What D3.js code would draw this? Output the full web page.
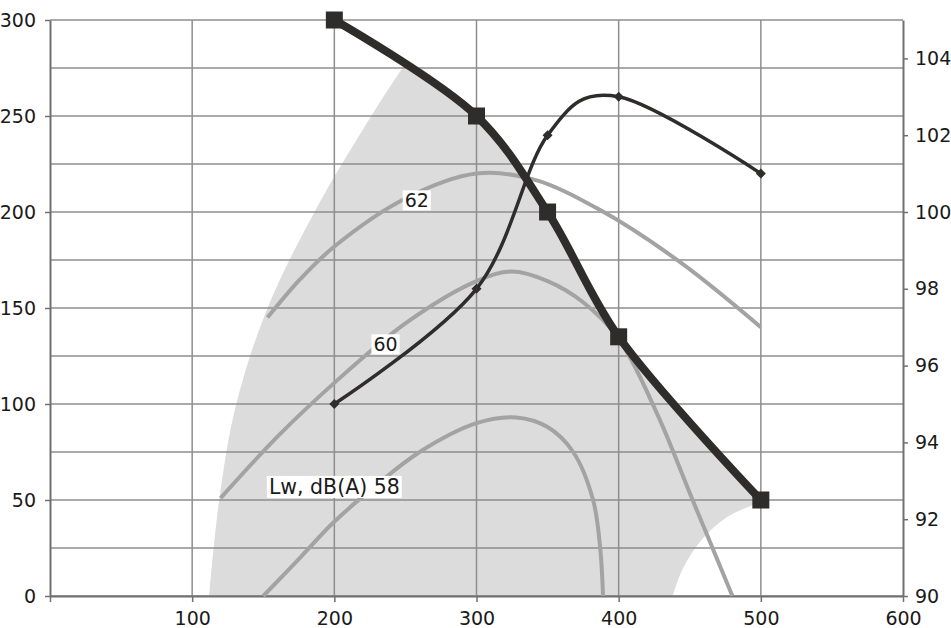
<!DOCTYPE html>
<html>
<head>
<meta charset="utf-8">
<script src="https://cdn.jsdelivr.net/npm/d3@7"></script>
<style>
    html, body { margin: 0; padding: 0; background: #fff; }
</style>
</head>
<body>
<div id="chart"></div>
<script>
// fan curve: flow on x, pressure on the left axis, sound power on the right axis
const pressurePts = [[200, 300], [300, 250], [350, 200], [400, 135], [500, 50]];
const soundPts = [[200, 95], [300, 98], [350, 102], [400, 103], [500, 101]];

// iso-noise lines (Lw, dB(A))
const noise62 = [[153, 145], [176, 165], [200, 182], [250, 207], [300, 220], [340, 217], [387, 201], [443, 174], [500, 140]];
const noise60 = [[120, 51], [160, 83], [200, 111], [250, 142], [300, 164], [325, 169], [350, 164], [375, 153], [400, 134], [427, 95], [452, 50], [480, 0]];
const noise58 = [[150, 0], [176, 20], [199, 38], [230, 58], [260, 75], [300, 90], [328, 93], [350, 88], [368, 75], [382, 50], [387, 25], [389, 0]];

// working region edges
const regionLeft = [[112, 0], [119, 50], [131, 100], [153, 150], [186, 200], [226, 250], [248, 275], [272, 300]];
const regionRight = [[500, 49], [476, 41], [457, 28], [445, 14], [438, 0]];

const noiseLabels = [
    { text: "62", x: 258, y: 206, size: 19 },
    { text: "60", x: 236, y: 131, size: 19 },
    { text: "Lw, dB(A) 58", x: 200, y: 57, size: 20.5 }
];

const xTicks = [0, 100, 200, 300, 400, 500, 600];
const yTicks = [0, 50, 100, 150, 200, 250, 300];
const y2Ticks = [90, 92, 94, 96, 98, 100, 102, 104];
const gridY = d3.range(0, 301, 25);
const gridX = [100, 200, 300, 400, 500];

const W = 951, H = 628;
const margin = { top: 20, right: 48, bottom: 32, left: 50 };
const FONT = "DejaVu Sans, Verdana, sans-serif";

const svg = d3.select("#chart").append("svg")
    .attr("width", W)
    .attr("height", H);

const x = d3.scaleLinear().domain([0, 600]).range([margin.left, W - margin.right]);
const y = d3.scaleLinear().domain([0, 300]).range([H - margin.bottom, margin.top]);
const y2 = d3.scaleLinear().domain([90, 105]).range([H - margin.bottom, margin.top]);

const smooth = d3.line().x(d => x(d[0])).y(d => y(d[1])).curve(d3.curveCatmullRom);
const smooth2 = d3.line().x(d => x(d[0])).y(d => y2(d[1])).curve(d3.curveCardinal.tension(0));

// shaded region, clipped under the pressure curve
const pressurePath = smooth(pressurePts);
const clipD = `M${x(0)},${y(300)}L` + pressurePath.slice(1) + `L${x(500)},${y(0)}L${x(0)},${y(0)}Z`;
svg.append("clipPath").attr("id", "under-curve")
    .append("path").attr("d", clipD);

const regionD = smooth(regionLeft)
    + `L${x(560)},${y(300)}L${x(560)},${y(49)}`
    + smooth(regionRight).replace(/^M/, "L") + "Z";
svg.append("path")
    .attr("d", regionD)
    .attr("fill", "#dcdcdc")
    .attr("clip-path", "url(#under-curve)");

// grid
svg.append("g").selectAll("line")
    .data(gridY)
    .join("line")
    .attr("x1", x(0)).attr("x2", x(600))
    .attr("y1", d => y(d)).attr("y2", d => y(d))
    .attr("stroke", "#8e8e8e").attr("stroke-width", 1.5);

svg.append("g").selectAll("line")
    .data(gridX)
    .join("line")
    .attr("x1", d => x(d)).attr("x2", d => x(d))
    .attr("y1", y(0)).attr("y2", y(300))
    .attr("stroke", "#8e8e8e").attr("stroke-width", 1.5);

// axes
const styleAxis = g => {
    g.attr("font-size", 19).attr("font-family", FONT);
    g.select(".domain").attr("stroke", "#707070").attr("stroke-width", 2);
    g.selectAll(".tick line").attr("stroke", "#707070").attr("stroke-width", 1.5);
    g.selectAll("text").attr("fill", "#1a1a1a");
};

svg.append("g")
    .attr("transform", `translate(${x(0)},0)`)
    .call(d3.axisLeft(y).tickValues(yTicks).tickSize(5).tickPadding(9).tickSizeOuter(0))
    .call(styleAxis);

svg.append("g")
    .attr("transform", `translate(${x(600)},0)`)
    .call(d3.axisRight(y2).tickValues(y2Ticks).tickSize(5).tickPadding(7).tickSizeOuter(0))
    .call(styleAxis);

svg.append("g")
    .attr("transform", `translate(0,${y(0)})`)
    .call(d3.axisBottom(x).tickValues(xTicks).tickSize(6).tickPadding(10).tickSizeOuter(0)
        .tickFormat(d => d === 0 ? "" : d))
    .call(styleAxis);

// noise lines
svg.append("g").selectAll("path")
    .data([noise62, noise60, noise58])
    .join("path")
    .attr("d", smooth)
    .attr("fill", "none")
    .attr("stroke", "#a3a3a3")
    .attr("stroke-width", 4);

// noise labels with white boxes
const lab = svg.append("g")
    .attr("font-family", FONT)
    .selectAll("g")
    .data(noiseLabels)
    .join("g")
    .attr("transform", d => `translate(${x(d.x)},${y(d.y)})`);

lab.append("text")
    .attr("text-anchor", "middle")
    .attr("dy", "0.36em")
    .attr("font-size", d => d.size)
    .attr("fill", "#1a1a1a")
    .text(d => d.text);

lab.each(function () {
    const g = d3.select(this);
    const bb = g.select("text").node().getBBox();
    g.insert("rect", "text")
        .attr("x", bb.x - 2).attr("y", bb.y + 1)
        .attr("width", bb.width + 4).attr("height", bb.height - 2)
        .attr("fill", "#fff");
});

// pressure curve
svg.append("path")
    .attr("d", pressurePath)
    .attr("fill", "none")
    .attr("stroke", "#2f2c2c")
    .attr("stroke-width", 8)
    .attr("stroke-linejoin", "round");

svg.append("g").selectAll("path")
    .data(pressurePts)
    .join("path")
    .attr("transform", d => `translate(${x(d[0])},${y(d[1])})`)
    .attr("d", d3.symbol(d3.symbolSquare, 289))
    .attr("fill", "#2f2c2c");

// sound power curve (right axis)
svg.append("path")
    .attr("d", smooth2(soundPts))
    .attr("fill", "none")
    .attr("stroke", "#2f2c2c")
    .attr("stroke-width", 3.5);

svg.append("g").selectAll("path")
    .data(soundPts)
    .join("path")
    .attr("transform", d => `translate(${x(d[0])},${y2(d[1])}) rotate(45)`)
    .attr("d", d3.symbol(d3.symbolSquare, 50))
    .attr("fill", "#2f2c2c");
</script>
</body>
</html>
